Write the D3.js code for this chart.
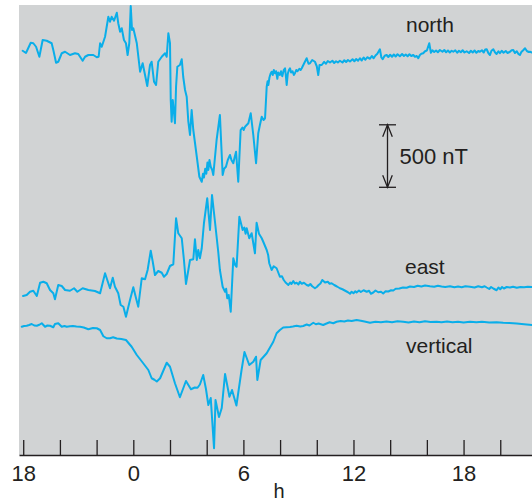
<!DOCTYPE html>
<html>
<head>
<meta charset="utf-8">
<script src="https://cdn.jsdelivr.net/npm/d3@7"></script>
<style>
  html, body { margin: 0; padding: 0; background: #ffffff; }
  svg { display: block; }
</style>
</head>
<body>
<svg id="chart" width="532" height="504"></svg>
<script>
// Magnetometer record: field components in nT (relative to the quiet level) vs. hour of day.
// Each entry is [hour, nT]; hours run from 18 h of the previous day (-6) through the next evening.

const northTrace = [
  [-6.03,-6],[-5.85,-24],[-5.59,58],[-5.45,54],[-5.30,26],[-5.12,-54],[-4.94,80],[-4.72,74],
  [-4.45,54],[-4.36,0],[-4.21,-102],[-4.09,-94],[-3.90,-26],[-3.72,-14],[-3.45,-40],[-3.18,-26],
  [-3.00,-32],[-2.76,-86],[-2.63,-54],[-2.45,-40],[-2.18,-40],[-1.99,-58],[-1.89,-54],[-1.81,54],
  [-1.72,26],[-1.54,106],[-1.36,266],[-1.27,226],[-1.18,266],[-1.05,234],[-0.90,298],[-0.82,214],
  [-0.72,146],[-0.63,174],[-0.51,80],[-0.40,54],[-0.31,-40],[-0.22,54],[-0.14,352],[-0.07,160],
  [0.00,174],[0.19,54],[0.37,-174],[0.51,-106],[0.64,-200],[0.76,-288],[0.91,-120],[1.00,-94],
  [1.13,-254],[1.24,-280],[1.36,-94],[1.55,-54],[1.73,-26],[1.82,-54],[1.91,134],[2.00,54],
  [2.04,-400],[2.09,-574],[2.15,-400],[2.22,-506],[2.27,-586],[2.33,-294],[2.40,-134],[2.54,-120],
  [2.64,-74],[2.72,-214],[2.82,-320],[2.91,-374],[3.00,-574],[3.09,-680],[3.18,-480],[3.27,-640],
  [3.46,-854],[3.60,-1014],[3.73,-1054],[3.80,-990],[3.85,-1020],[3.92,-950],[3.98,-990],[4.04,-900],
  [4.09,-960],[4.15,-880],[4.22,-934],[4.30,-960],[4.36,-1000],[4.54,-720],[4.72,-520],[4.87,-1000],
  [4.95,-950],[5.05,-934],[5.15,-880],[5.27,-840],[5.35,-880],[5.45,-906],[5.52,-860],[5.60,-814],
  [5.72,-1054],[5.85,-640],[5.95,-620],[6.02,-640],[6.09,-614],[6.18,-600],[6.27,-586],[6.40,-506],
  [6.54,-680],[6.69,-906],[6.81,-666],[6.90,-600],[7.00,-534],[7.10,-560],[7.18,-546],[7.27,-294],
  [7.32,-250],[7.36,-280],[7.42,-220],[7.48,-190],[7.54,-174],[7.60,-200],[7.66,-160],[7.72,-186],
  [7.78,-170],[7.85,-230],[7.90,-180],[7.99,-200],[8.05,-170],[8.12,-210],[8.20,-160],[8.27,-146],
  [8.31,-200],[8.36,-280],[8.42,-190],[8.48,-160],[8.54,-146],[8.60,-180],[8.68,-170],[8.75,-200],
  [8.81,-186],[8.88,-160],[8.95,-170],[9.05,-150],[9.12,-160],[9.18,-146],[9.30,-110],[9.45,-66],
  [9.55,-110],[9.63,-106],[9.75,-80],[9.90,-94],[10.00,-130],[10.08,-200],[10.15,-120],[10.27,-120],
  [10.40,-95],[10.50,-110],[10.60,-88],[10.72,-100],[10.85,-86],[10.95,-104],[11.05,-90],[11.15,-100],
  [11.26,-86],[11.40,-100],[11.50,-82],[11.60,-96],[11.70,-80],[11.81,-92],[11.95,-74],[12.05,-90],
  [12.15,-72],[12.25,-86],[12.35,-66],[12.45,-84],[12.55,-60],[12.65,-78],[12.75,-58],[12.90,-70],
  [13.00,-48],[13.10,-66],[13.20,-44],[13.30,-30],[13.44,6],[13.52,-60],[13.59,-74],[13.70,-46],
  [13.81,-40],[13.90,-56],[14.00,-38],[14.10,-54],[14.20,-36],[14.30,-52],[14.40,-34],[14.53,-50],
  [14.65,-32],[14.75,-48],[14.85,-36],[14.95,-50],[15.05,-34],[15.15,-48],[15.26,-40],[15.35,-54],
  [15.45,-48],[15.53,-66],[15.62,-40],[15.70,-30],[15.80,-26],[15.90,-10],[16.00,-4],[16.13,54],
  [16.22,-22],[16.30,-2],[16.40,-16],[16.50,-4],[16.60,-18],[16.71,0],[16.85,-14],[16.95,0],
  [17.05,-18],[17.15,-4],[17.25,-20],[17.35,-6],[17.44,-14],[17.55,-2],[17.65,-22],[17.75,-6],
  [17.85,-18],[17.95,-2],[18.05,-20],[18.17,-10],[18.30,-24],[18.40,-6],[18.50,-20],[18.60,-4],
  [18.70,-22],[18.80,-8],[18.89,-14],[19.00,-2],[19.10,-20],[19.18,4],[19.26,6],[19.35,-24],
  [19.44,-40],[19.52,-6],[19.62,6],[19.72,-20],[19.80,-32],[19.90,-10],[19.98,-26],[20.08,-6],
  [20.18,-22],[20.30,-8],[20.40,-24],[20.53,-14],[20.62,-2],[20.71,0],[20.80,-24],[20.90,-10],
  [21.00,-34],[21.07,-40],[21.15,-16],[21.25,-2],[21.35,14],[21.45,-8],[21.55,-16],[21.62,-14],
  [21.73,-20]
];

const eastTrace = [
  [-6.01,-48],[-5.81,-40],[-5.63,-14],[-5.45,-6],[-5.26,-48],[-5.08,58],[-4.90,66],[-4.72,54],
  [-4.54,0],[-4.36,-26],[-4.27,-74],[-4.09,40],[-3.90,32],[-3.72,0],[-3.45,-6],[-3.23,14],
  [-3.05,-14],[-2.76,14],[-2.45,0],[-2.09,-8],[-1.81,-26],[-1.54,134],[-1.36,54],[-1.27,14],
  [-1.12,98],[-1.00,26],[-0.82,-26],[-0.69,-120],[-0.54,-134],[-0.40,-214],[-0.18,-80],[0.00,22],
  [0.15,-66],[0.27,-134],[0.46,94],[0.64,86],[0.78,160],[0.95,314],[1.06,226],[1.18,120],
  [1.36,152],[1.55,138],[1.67,106],[1.82,128],[2.00,192],[2.18,206],[2.33,574],[2.45,454],
  [2.64,414],[2.76,240],[2.87,48],[3.00,160],[3.09,240],[3.27,246],[3.36,406],[3.46,240],
  [3.54,320],[3.63,254],[3.73,334],[3.85,534],[4.03,734],[4.18,480],[4.29,760],[4.45,548],
  [4.63,304],[4.72,160],[4.87,26],[5.00,-14],[5.06,10],[5.12,-66],[5.20,-40],[5.31,-174],
  [5.45,254],[5.55,200],[5.63,186],[5.78,586],[5.96,480],[6.05,500],[6.12,450],[6.18,494],
  [6.32,414],[6.45,454],[6.63,294],[6.72,538],[6.85,450],[7.00,414],[7.10,380],[7.27,320],
  [7.35,280],[7.41,214],[7.54,160],[7.65,190],[7.81,174],[7.90,140],[7.99,106],[8.10,110],
  [8.20,80],[8.30,60],[8.45,40],[8.55,60],[8.62,48],[8.72,72],[8.80,52],[8.90,58],
  [9.00,44],[9.08,66],[9.18,50],[9.30,58],[9.45,40],[9.55,34],[9.65,48],[9.75,30],
  [9.90,14],[10.00,24],[10.10,40],[10.20,52],[10.30,80],[10.45,60],[10.60,66],[10.70,50],
  [10.81,54],[10.95,40],[11.10,28],[11.26,14],[11.40,6],[11.55,-6],[11.70,-18],[11.81,-30],
  [11.90,-14],[12.00,-26],[12.10,-10],[12.17,-20],[12.30,-4],[12.40,-16],[12.55,-2],[12.72,-14],
  [12.85,-6],[12.95,-30],[13.08,-20],[13.20,-4],[13.35,-18],[13.50,-14],[13.62,-28],[13.75,-10],
  [13.90,-12],[14.05,-2],[14.17,-4],[14.30,10],[14.50,12],[14.70,20],[14.90,18],[15.08,28],
  [15.30,24],[15.50,34],[15.70,28],[15.90,36],[16.17,30],[16.40,26],[16.60,34],[16.80,28],
  [17.00,24],[17.26,30],[17.50,22],[17.70,28],[17.90,22],[18.10,30],[18.35,26],[18.60,20],
  [18.80,30],[19.00,22],[19.15,30],[19.26,20],[19.40,8],[19.50,24],[19.62,12],[19.80,-2],
  [19.90,20],[20.00,6],[20.10,24],[20.20,12],[20.35,24],[20.53,20],[20.70,26],[20.90,18],
  [21.10,24],[21.30,22],[21.50,26],[21.73,24]
];

const verticalTrace = [
  [-6.08,-6],[-5.95,0],[-5.81,2],[-5.68,8],[-5.54,16],[-5.40,4],[-5.26,2],[-5.12,10],
  [-4.99,22],[-4.81,-6],[-4.68,4],[-4.54,2],[-4.36,-10],[-4.27,16],[-4.09,22],[-3.90,-6],
  [-3.75,0],[-3.63,-6],[-3.45,-2],[-3.29,0],[-3.10,-4],[-2.90,-6],[-2.70,-12],[-2.45,-26],
  [-2.20,-16],[-1.99,-18],[-1.81,-32],[-1.63,-82],[-1.45,-98],[-1.27,-98],[-1.10,-90],[-0.90,-100],
  [-0.65,-104],[-0.40,-112],[-0.09,-166],[0.19,-232],[0.54,-298],[0.82,-352],[1.00,-418],[1.15,-430],
  [1.28,-444],[1.46,-418],[1.82,-294],[2.00,-326],[2.27,-458],[2.54,-570],[2.87,-440],[3.14,-506],
  [3.35,-492],[3.50,-494],[3.63,-468],[3.81,-392],[3.96,-504],[4.09,-632],[4.22,-576],[4.40,-978],
  [4.48,-592],[4.67,-728],[4.82,-656],[5.00,-384],[5.24,-566],[5.38,-512],[5.62,-636],[5.90,-352],
  [6.06,-208],[6.32,-312],[6.54,-286],[6.69,-246],[6.76,-432],[6.94,-272],[7.27,-218],[7.63,-126],
  [7.81,-58],[7.99,-32],[8.17,-12],[8.54,-8],[8.70,-4],[8.90,2],[9.10,-4],[9.26,0],
  [9.45,12],[9.60,4],[9.81,26],[9.95,14],[10.10,20],[10.35,8],[10.50,18],[10.70,30],
  [10.90,22],[11.08,34],[11.30,40],[11.50,36],[11.70,44],[11.90,40],[12.17,48],[12.40,42],
  [12.60,36],[12.90,26],[13.20,34],[13.50,30],[13.80,36],[14.10,30],[14.40,38],[14.71,34],
  [15.00,28],[15.30,36],[15.60,30],[15.90,38],[16.20,32],[16.53,34],[16.80,30],[17.10,36],
  [17.40,30],[17.70,34],[18.00,28],[18.35,34],[18.70,30],[19.00,34],[19.40,28],[19.80,30],
  [20.16,26],[20.50,24],[20.90,20],[21.30,14],[21.73,8]
];

const componentNames = ["north", "east", "vertical"];
const hourTicks = [-6, -4, -2, 0, 2, 4, 6, 8, 10, 12, 14, 16, 18, 20];
const scaleBarNT = 500;
const axisTitle = "h";

// ---- layout ----
const svg = d3.select("#chart");
const panel = { left: 19, right: 532, top: 5, bottom: 455 };
const lineColor = "#0aaee9";
const inkColor = "#231f20";
const panelColor = "#d1d3d4";
const fontFamily = "'Liberation Sans', Arial, sans-serif";

const x = d3.scaleLinear().domain([-6.23, 21.73]).range([panel.left, panel.right]);
const nTtoPx = 62.5 / 500;
// each component gets its own vertical scale sharing the same nT-per-pixel factor
const baselines = { north: 50, east: 290, vertical: 326 };
const yFor = base => d3.scaleLinear().domain([0, 500]).range([base, base - 500 * nTtoPx]);

svg.append("rect")
  .attr("x", panel.left).attr("y", panel.top)
  .attr("width", panel.right - panel.left).attr("height", panel.bottom - panel.top)
  .attr("fill", panelColor);

svg.append("clipPath").attr("id", "panel-clip")
  .append("rect")
  .attr("x", panel.left).attr("y", panel.top)
  .attr("width", panel.right - panel.left).attr("height", panel.bottom - panel.top);

const traces = { north: northTrace, east: eastTrace, vertical: verticalTrace };
const traceGroup = svg.append("g").attr("clip-path", "url(#panel-clip)");

componentNames.forEach(name => {
  const y = yFor(baselines[name]);
  const line = d3.line().x(d => x(d[0])).y(d => y(d[1]));
  traceGroup.append("path")
    .datum(traces[name])
    .attr("d", line)
    .attr("fill", "none")
    .attr("stroke", lineColor)
    .attr("stroke-width", 2)
    .attr("stroke-linejoin", "round")
    .attr("stroke-linecap", "round");
});

// component labels
const labelPos = {
  north:    { x: 406, y: 32 },
  east:     { x: 405, y: 274 },
  vertical: { x: 406, y: 353 }
};
componentNames.forEach(name => {
  svg.append("text")
    .attr("x", labelPos[name].x).attr("y", labelPos[name].y)
    .attr("font-family", fontFamily).attr("font-size", 21)
    .attr("fill", inkColor)
    .text(name);
});

// 500 nT scale bar
const barX = 387.5;
const barY = d3.scaleLinear().domain([0, scaleBarNT]).range([187.3, 187.3 - scaleBarNT * nTtoPx]);
const bar = svg.append("g").attr("stroke", inkColor).attr("stroke-width", 1.3).attr("fill", "none");
const yTop = barY(scaleBarNT), yBot = barY(0);
bar.append("line").attr("x1", barX).attr("x2", barX).attr("y1", yTop).attr("y2", yBot);
bar.append("line").attr("x1", barX - 8.5).attr("x2", barX + 8.5).attr("y1", yTop).attr("y2", yTop);
bar.append("line").attr("x1", barX - 8.5).attr("x2", barX + 8.5).attr("y1", yBot).attr("y2", yBot);
bar.append("path").attr("d", `M${barX - 4.8},${yTop + 12} L${barX},${yTop} L${barX + 4.8},${yTop + 12}`);
bar.append("path").attr("d", `M${barX - 4.8},${yBot - 12} L${barX},${yBot} L${barX + 4.8},${yBot - 12}`);
svg.append("text")
  .attr("x", 399.5).attr("y", (yTop + yBot) / 2 + 7.5)
  .attr("font-family", fontFamily).attr("font-size", 22)
  .attr("fill", inkColor)
  .text(scaleBarNT + " nT");

// time axis: ticks point up into the panel, labels every 6 h as clock hours
const hourLabel = d => (d % 6 === 0) ? String(((d % 24) + 24) % 24) : "";
const axis = d3.axisBottom(x)
  .tickValues(hourTicks)
  .tickSizeInner(-15)
  .tickSizeOuter(0)
  .tickPadding(10)
  .tickFormat(hourLabel);

const gAxis = svg.append("g")
  .attr("transform", `translate(0,${panel.bottom})`)
  .call(axis);
gAxis.select(".domain").attr("stroke", inkColor).attr("stroke-width", 1.6);
gAxis.selectAll(".tick line").attr("stroke", inkColor).attr("stroke-width", 1.3);
gAxis.selectAll(".tick text")
  .attr("font-family", fontFamily).attr("font-size", 22)
  .attr("fill", inkColor);

svg.append("text")
  .attr("x", 279).attr("y", 498)
  .attr("text-anchor", "middle")
  .attr("font-family", fontFamily).attr("font-size", 20)
  .attr("fill", inkColor)
  .text(axisTitle);
</script>
</body>
</html>
